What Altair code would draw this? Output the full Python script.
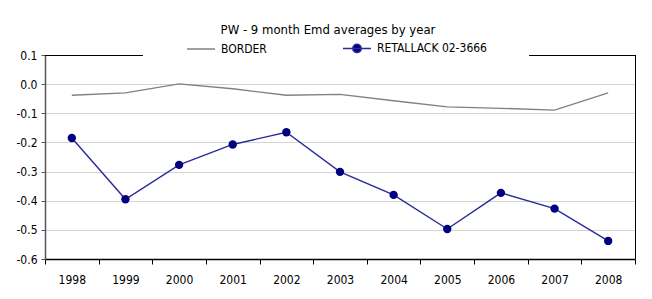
import altair as alt
import pandas as pd

years = ["1998", "1999", "2000", "2001", "2002", "2003", "2004", "2005", "2006", "2007", "2008"]
border = [-0.038, -0.030, 0.001, -0.016, -0.038, -0.035, -0.057, -0.078, -0.083, -0.089, -0.030]
retallack = [-0.185, -0.395, -0.277, -0.207, -0.165, -0.301, -0.380, -0.497, -0.373, -0.427, -0.538]
series_names = ["BORDER", "RETALLACK 02-3666"]
y_ticks = [-0.6, -0.5, -0.4, -0.3, -0.2, -0.1, 0.0, 0.1]

rows = []
for yr, b, r in zip(years, border, retallack):
    rows.append({"year": yr, "series": series_names[0], "value": b})
    rows.append({"year": yr, "series": series_names[1], "value": r})
df = pd.DataFrame(rows)

FONT = "DejaVu Sans Condensed, Liberation Sans Narrow, sans-serif"
W, H = 590, 204

xenc = alt.X("year:N", title=None, sort=years,
             scale=alt.Scale(paddingInner=0, paddingOuter=0),
             axis=alt.Axis(labelAngle=0, tickBand="extent", tickSize=5, tickColor="#000",
                           domainColor="#000", domainWidth=1.5, labelPadding=10, grid=False))
yenc = alt.Y("value:Q", title=None,
             scale=alt.Scale(domain=[-0.6, 0.1], nice=False, zero=False),
             axis=alt.Axis(values=y_ticks, labelExpr="replace(format(datum.value, '.1f'), '\u2212', '-')",
                           tickSize=4, tickColor="#555", domainColor="#555", domainWidth=1.5,
                           labelPadding=4, grid=True, gridColor="#d4d4d4",
                           gridOpacity={"condition": {"test": "datum.value > 0.05", "value": 0}, "value": 1}))

lines = alt.Chart(df).mark_line(strokeWidth=1.4).encode(
    x=xenc, y=yenc,
    color=alt.Color("series:N", sort=series_names,
                    scale=alt.Scale(domain=series_names, range=["#808080", "#2a2a9a"]),
                    legend=alt.Legend(
                        title=None, orient="none", legendX=141, legendY=-22, direction="horizontal",
                        symbolType={"expr": "datum.value === 'BORDER' ? 'M-1,0H1' : 'M-1,0H1M0.3,0A0.3,0.3,0,1,1,-0.3,0A0.3,0.3,0,1,1,0.3,0'"},
                        symbolFillColor={"expr": "datum.value === 'BORDER' ? 'transparent' : '#000080'"},
                        symbolSize=784, symbolStrokeWidth=1.5,
                        labelOffset=5, columnPadding=73, padding=0,
                        labelFont=FONT, labelFontSize=12, labelColor="#000"))
)

points = alt.Chart(df).transform_filter(
    alt.datum.series == series_names[1]
).mark_point(filled=True, size=70, color="#000080", opacity=1).encode(x=xenc, y=yenc)

frame_l = alt.Chart(df).mark_rule(color="#000", strokeWidth=1).encode(
    x=alt.value(0), x2=alt.value(98), y=alt.value(0.5))
frame_r = alt.Chart(df).mark_rule(color="#000", strokeWidth=1).encode(
    x=alt.value(484), x2=alt.value(590), y=alt.value(0.5))
frame_v = alt.Chart(df).mark_rule(color="#000", strokeWidth=1).encode(
    x=alt.value(590.5), y=alt.value(0), y2=alt.value(204))

chart = alt.layer(lines, points, frame_l, frame_r, frame_v).properties(
    width=W, height=H,
    title=alt.Title("PW - 9 month Emd averages by year", font=FONT, fontSize=13,
                    fontWeight="normal", color="#000", frame="group", anchor="middle",
                    dx=-12, dy=4, offset=0),
    autosize=alt.AutoSizeParams(type="none"),
    padding={"left": 37, "top": 47, "right": 8, "bottom": 30},
).configure_view(stroke=None).configure_axis(
    labelFont=FONT, labelFontSize=12, labelColor="#000"
)

chart.save("out.html", embed_options={"renderer": "svg", "actions": False})
